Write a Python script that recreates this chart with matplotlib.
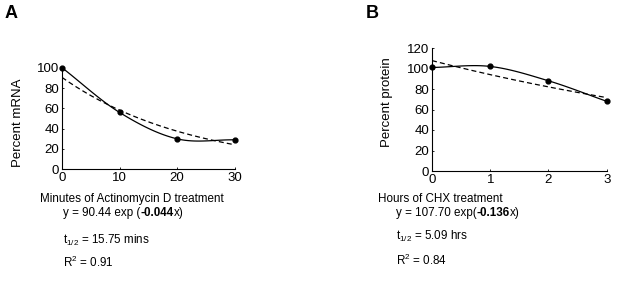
import matplotlib
matplotlib.use('Agg')
import matplotlib.pyplot as plt
import numpy as np

plt.rcParams['font.family'] = ['Liberation Sans', 'DejaVu Sans']
plt.rcParams['font.size'] = 8.5
plt.rcParams['mathtext.fontset'] = 'custom'
plt.rcParams['mathtext.rm'] = 'Liberation Sans'

# panel A - mRNA decay after actinomycin D
a_minutes = [0, 10, 20, 30]
a_mrna = [100, 56, 30, 29]
a_amp, a_rate = 90.44, -0.044
a_half, a_r2 = '15.75 mins', '0.91'

# panel B - protein decay after CHX
b_hours = [0, 1, 2, 3]
b_protein = [101, 102, 88, 68]
b_amp, b_rate = 107.70, -0.136
b_half, b_r2 = '5.09 hrs', '0.84'

W, H = 617, 281
fig = plt.figure(figsize=(W / 100, H / 100), dpi=100)


def px_axes(x0, x1, y_top, y_bot):
    return fig.add_axes([x0 / W, 1 - y_bot / H, (x1 - x0) / W, (y_bot - y_top) / H])


def smooth(x, y, n=40):
    # catmull-rom style smoothed line through the points (like a spreadsheet "smoothed line")
    x = np.asarray(x, float)
    y = np.asarray(y, float)
    m = np.gradient(y, x, edge_order=1)
    m[1:-1] = (y[2:] - y[:-2]) / (x[2:] - x[:-2])
    xs, ys = [], []
    for i in range(len(x) - 1):
        h = x[i + 1] - x[i]
        t = np.linspace(0, 1, n)
        h00 = 2 * t**3 - 3 * t**2 + 1
        h10 = t**3 - 2 * t**2 + t
        h01 = -2 * t**3 + 3 * t**2
        h11 = t**3 - t**2
        xs.append(x[i] + t * h)
        ys.append(h00 * y[i] + h10 * h * m[i] + h01 * y[i + 1] + h11 * h * m[i + 1])
    return np.concatenate(xs), np.concatenate(ys)


def draw_panel(ax, x, y, amp, rate, xmax, ymax, yticks):
    sx, sy = smooth(x, y)
    ax.plot(sx, sy, color='black', lw=0.9)
    xs = np.linspace(0, xmax, 200)
    # exponential fit from the equation
    ax.plot(xs, amp * np.exp(rate * xs), color='black', lw=0.9, ls=(0, (4, 2.5)))
    ax.scatter(x, y, color='black', s=12, zorder=3, clip_on=False)
    ax.set_xlim(0, xmax)
    ax.set_ylim(0, ymax)
    ax.set_xticks(x)
    ax.set_yticks(yticks)
    ax.spines['top'].set_visible(False)
    ax.spines['right'].set_visible(False)
    for s in ('left', 'bottom'):
        ax.spines[s].set_linewidth(0.8)
    ax.tick_params(direction='in', length=1.5, width=0.6, labelsize=9.5, pad=2)
    ax.patch.set_alpha(0)


ax1 = px_axes(62, 234.6, 67.7, 169.3)
draw_panel(ax1, a_minutes, a_mrna, a_amp, a_rate, 30, 100, range(0, 101, 20))
ax2 = px_axes(432, 606.7, 48, 171)
draw_panel(ax2, b_hours, b_protein, b_amp, b_rate, 3, 120, range(0, 121, 20))

# panel letters
fig.text(5 / W, 1 - 13 / H, 'A', fontsize=13, fontweight='bold', va='center')
fig.text(366 / W, 1 - 13 / H, 'B', fontsize=13, fontweight='bold', va='center')

# axis titles
fig.text(18 / W, 1 - 123 / H, 'Percent mRNA', rotation=90, ha='center', va='center', fontsize=9.5)
fig.text(387 / W, 1 - 102 / H, 'Percent protein', rotation=90, ha='center', va='center', fontsize=9.5)
fig.text(132 / W, 1 - 199 / H, 'Minutes of Actinomycin D treatment', ha='center', va='center', fontsize=8.4)
fig.text(440 / W, 1 - 199 / H, 'Hours of CHX treatment', ha='center', va='center', fontsize=8.4)

renderer = fig.canvas.get_renderer()


def chain(x0, y0, parts, fs=8.4):
    # write text pieces one after another, some of them bold
    x = x0
    for s, w in parts:
        t = fig.text(x / W, 1 - y0 / H, s, va='center', fontsize=fs, fontweight=w)
        x += t.get_window_extent(renderer).width


def annot(x0, ys, amp, rate, half, r2, gap):
    chain(x0, ys[0], [('y = %.2f exp%s' % (amp, gap), 'normal'),
                      ('%.3f' % rate, 'bold'), ('x)', 'normal')])
    fig.text(x0 / W, 1 - ys[1] / H, r't$_{1/2}$ = ' + half, va='center', fontsize=8.4)
    fig.text(x0 / W, 1 - ys[2] / H, 'R$^2$ = ' + r2, va='center', fontsize=8.4)


annot(63, (213, 240, 262), a_amp, a_rate, a_half, a_r2, ' (')
annot(396, (213, 236, 260), b_amp, b_rate, b_half, b_r2, '(')

fig.savefig('out.png', dpi=100)
